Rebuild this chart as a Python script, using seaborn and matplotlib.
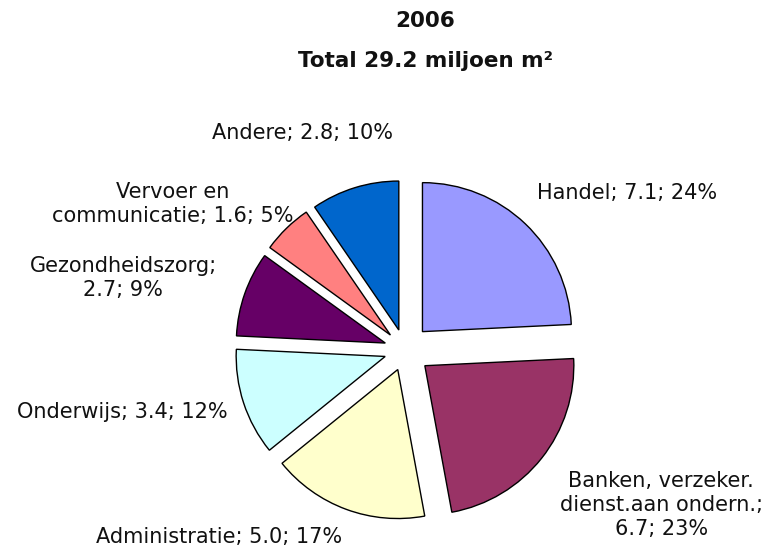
import matplotlib.pyplot as plt
import seaborn as sns

# ==========================================
# DATA
# ==========================================

sectors = [
    "Handel",
    "Banken, verzeker.\ndienst.aan ondern.",
    "Administratie",
    "Onderwijs",
    "Gezondheidszorg",
    "Vervoer en\ncommunicatie",
    "Andere",
]
area = [7.1, 6.7, 5.0, 3.4, 2.7, 1.6, 2.8]
share = [24, 23, 17, 12, 9, 5, 10]
seps = ["; ", ";\n", "; ", "; ", ";\n", "; ", "; "]

colors = ["#9999FF", "#993366", "#FFFFCC", "#CCFFFF", "#660066", "#FF8080", "#0066CC"]

# label centres in data units (pie radius = 1)
label_pos = [
    (1.49, 1.055),
    (1.72, -1.04),
    (-1.25, -1.255),
    (-1.90, -0.415),
    (-1.89, 0.485),
    (-1.56, 0.98),
    (-0.69, 1.455),
]

# ==========================================
# PLOT
# ==========================================

sns.set_theme(style="white")
plt.rcParams["font.family"] = ["DejaVu Sans"]

fig = plt.figure(figsize=(7.69, 5.52), dpi=100)
ax = fig.add_axes([0, 0, 1, 1])

wedges, _ = ax.pie(
    area,
    colors=sns.color_palette(colors),
    explode=[0.17, 0.17, 0.14, 0.14, 0.14, 0.14, 0.14],
    startangle=90,
    counterclock=False,
    radius=1.0,
    wedgeprops={"edgecolor": "black", "linewidth": 1.0},
)

for name, v, p, s, (x, y) in zip(sectors, area, share, seps, label_pos):
    ax.text(
        x, y, f"{name}{s}{v:.1f}; {p}%",
        ha="center", va="center",
        fontsize=15, color="#111111",
        linespacing=1.25,
    )

ax.set_xlim(-2.718, 2.443)
ax.set_ylim(-1.356, 2.349)
ax.set_aspect("equal")
ax.axis("off")

fig.text(0.553, 1 - 21 / 552, "2006", ha="center", va="center",
         fontsize=15.5, fontweight="bold", color="#111111")
fig.text(0.553, 1 - 61 / 552, "Total 29.2 miljoen m\u00b2", ha="center", va="center",
         fontsize=15.5, fontweight="bold", color="#111111")

plt.savefig("out.png", dpi=100)
plt.close()
